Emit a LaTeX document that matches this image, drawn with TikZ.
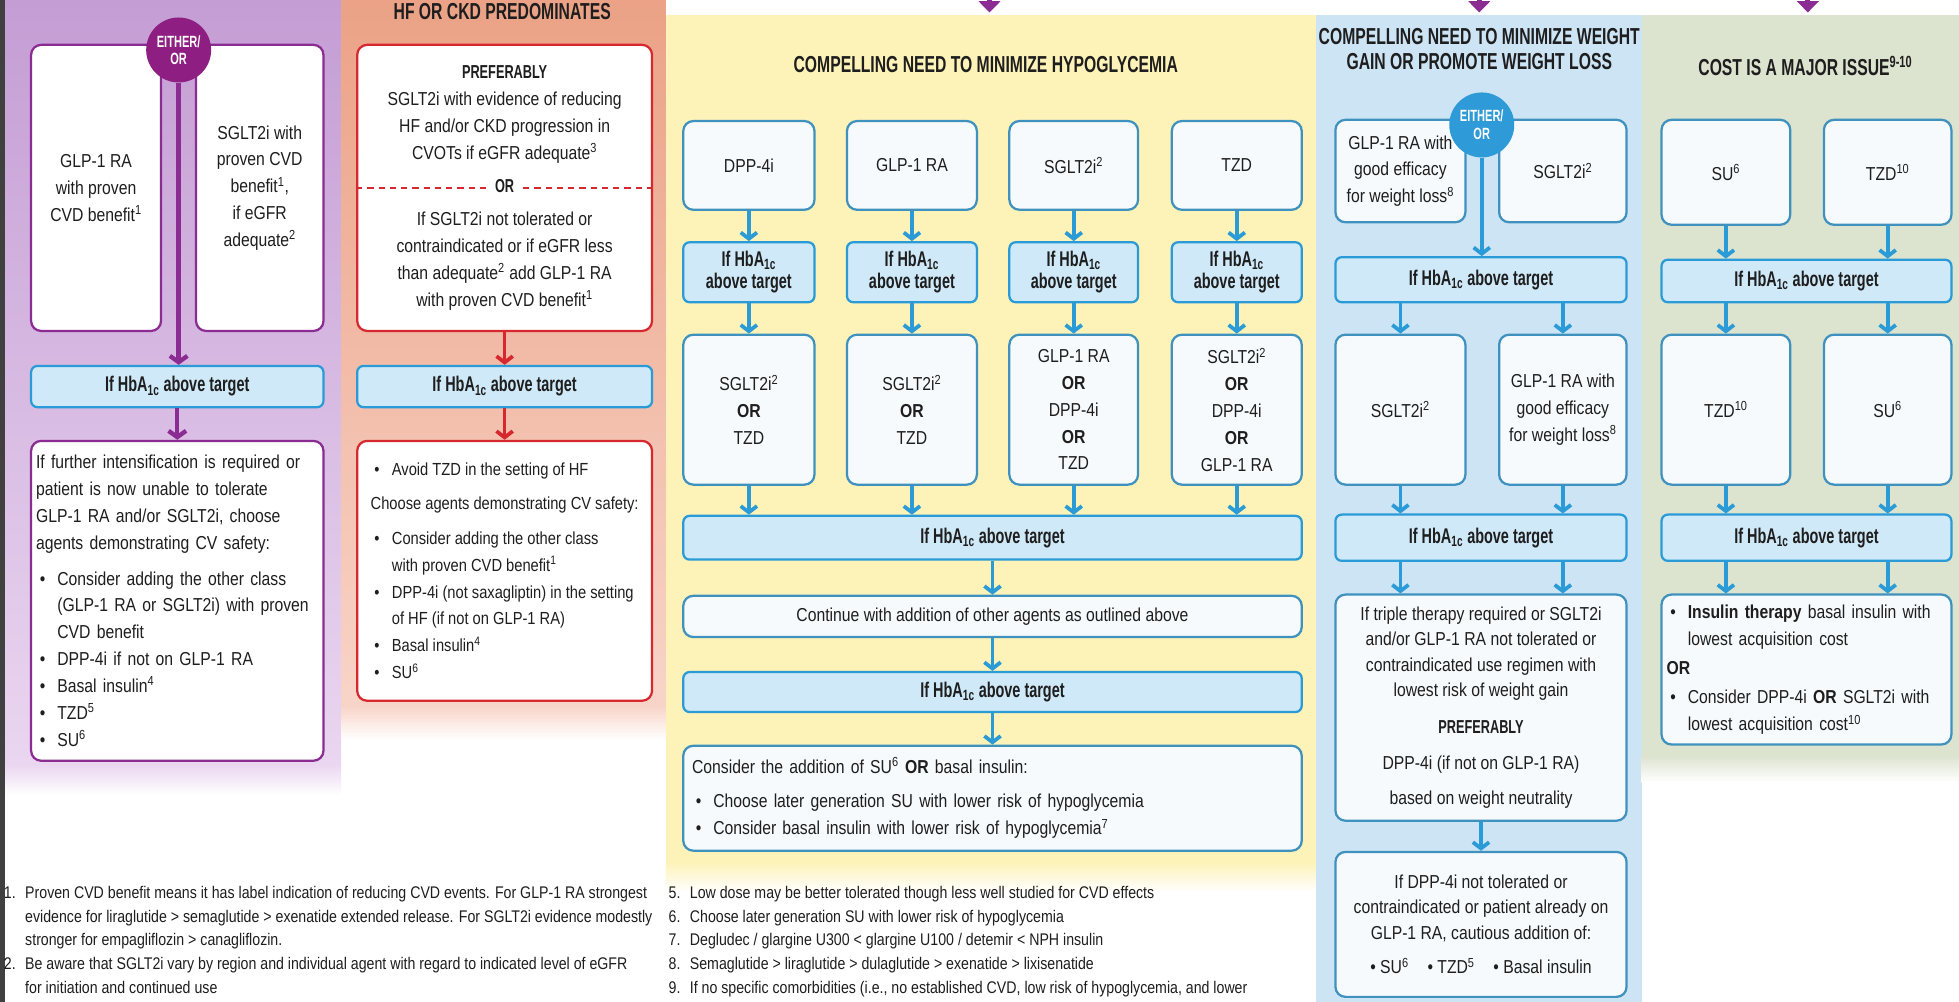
\documentclass[tikz,border=0pt]{standalone}
\usepackage{fontspec}
\setmainfont{Liberation Sans}[FakeStretch=0.84]
\newfontfamily\hfont{Liberation Sans}[FakeStretch=0.68]
\usetikzlibrary{arrows.meta}
\definecolor{pbgT}{HTML}{C49DD4}
\definecolor{pbgB}{HTML}{EAD6F0}
\definecolor{obgT}{HTML}{EBA286}
\definecolor{obgB}{HTML}{F8D4C8}
\definecolor{ybg}{HTML}{FDF2B8}
\definecolor{bbg}{HTML}{CDE4F5}
\definecolor{gbg}{HTML}{DCE3CF}
\definecolor{pdk}{HTML}{8B2C93}
\definecolor{pcirc}{HTML}{8E1E82}
\definecolor{rdk}{HTML}{D7282F}
\definecolor{bdk}{HTML}{2A9BD7}
\definecolor{bcirc}{HTML}{2E9AD8}
\definecolor{bbr}{HTML}{3F92BE}
\definecolor{barfill}{HTML}{CFE9F8}
\definecolor{boxw}{HTML}{F6FAFD}
\definecolor{txt}{HTML}{1E1E1E}
\newcommand\bodyf{\fontsize{15}{21.5}\selectfont}
\newcommand\barft{\hfont\bfseries\fontsize{17}{18}\selectfont}
\newcommand\titft{\hfont\bfseries\fontsize{18.5}{20}\selectfont}
\newcommand\circft{\hfont\bfseries\fontsize{13}{14}\selectfont}
\newcommand\footft{\fontsize{13.5}{19}\selectfont}
\newcommand\hba{If HbA\textsubscript{1c} above target}
\newcommand\hbb{If HbA\textsubscript{1c}\\above target}
\newcommand\myb{\hspace*{3pt}\makebox[14pt][l]{\textbullet}}
\newcommand\myi{\hspace*{17pt}}
\newcommand\hb[1]{{\hfont\bfseries #1}}
\newcommand\mybox[7]{\node[#1,anchor=north west,minimum width={#4-#2},minimum height={#5-#3}] (#6) at (#2,#3) {#7};}
\tikzset{
 pbox/.style={draw=pdk, line width=1.8pt, rounded corners=8pt, fill=white, align=center, font=\bodyf, text=txt, inner sep=3pt},
 obox/.style={pbox, draw=rdk},
 bbox/.style={pbox, draw=bbr, fill=boxw},
 hbar/.style={draw=bdk, line width=1.8pt, rounded corners=5pt, fill=barfill, align=center, font=\barft, text=txt, inner sep=2pt},
 circ/.style={circle, minimum size=52pt, inner sep=0pt, align=center, text=white, font=\circft},
 titl/.style={align=center, font=\titft, text=txt},
 foot/.style={align=left, font=\footft, text=txt, inner sep=0pt, anchor=north west},
 barr/.style={draw=bdk, line width=3pt, -{Straight Barb[length=5pt,width=13pt]}},
 parr/.style={draw=pdk, line width=3.5pt, -{Straight Barb[length=5pt,width=14pt]}},
 rarr/.style={draw=rdk, line width=3pt, -{Straight Barb[length=5pt,width=13pt]}},
 toptip/.style={draw=pdk, line width=4pt, -{Triangle[length=9pt,width=17pt]}},
 odash/.style={draw=rdk, line width=1.6pt, dash pattern=on 5pt off 4pt}
}
\begin{document}
\begin{tikzpicture}[x=1pt,y=-1pt]
\useasboundingbox (0,0) rectangle (1568,802);
\clip (0,0) rectangle (1568,802);
\fill[white] (0,0) rectangle (1568,802);
% column backgrounds
\shade[top color=pbgT, bottom color=pbgB] (4,0) rectangle (273,612);
\shade[top color=pbgB, bottom color=white] (4,612) rectangle (273,636);
\shade[top color=obgT, bottom color=obgB] (273,0) rectangle (533,565);
\shade[top color=obgB, bottom color=white] (273,565) rectangle (533,592);
\fill[ybg] (533,12) rectangle (1053,690);
\shade[top color=ybg, bottom color=white] (533,690) rectangle (1053,714);
\fill[bbg] (1053,12) rectangle (1314,802);
\fill[gbg] (1314,12) rectangle (1568,605);
\shade[top color=gbg, bottom color=white] (1314,605) rectangle (1568,626);
\fill[black!75] (0,0) rectangle (4,802);

% top arrow tips
\coordinate (tA) at (792,-12); \coordinate (tAe) at (792,10);
\coordinate (tB) at (1184,-12); \coordinate (tBe) at (1184,10);
\coordinate (tC) at (1447,-12); \coordinate (tCe) at (1447,10);
\draw[toptip] (tA) -- (tAe);
\draw[toptip] (tB) -- (tBe);
\draw[toptip] (tC) -- (tCe);

% ---------- purple column ----------
\mybox{pbox}{24}{35}{128}{264}{P1}{GLP-1 RA\\with proven\\CVD benefit\textsuperscript{1}}
\mybox{pbox}{156}{35}{258}{264}{P2}{SGLT2i with\\proven CVD\\benefit\textsuperscript{1},\\if eGFR\\adequate\textsuperscript{2}}
\mybox{hbar}{24}{292}{258}{325}{Pbar}{\hba}
\mybox{pbox,align=left,inner xsep=4pt,text width=226pt}{24}{352}{258}{608}{P3}{If further intensification is required or\\patient is now unable to tolerate\\GLP-1 RA and/or SGLT2i, choose\\agents demonstrating CV safety:\\[7pt]\myb Consider adding the other class\\\myi (GLP-1 RA or SGLT2i) with proven\\\myi CVD benefit\\\myb DPP-4i if not on GLP-1 RA\\\myb Basal insulin\textsuperscript{4}\\\myb TZD\textsuperscript{5}\\\myb SU\textsuperscript{6}}
\node[circ, fill=pcirc] (Pc) at (143,40) {EITHER/\\OR};
\draw[parr] (Pc.south) -- (Pc.south |- Pbar.north);
\draw[parr] (Pbar.south) -- (P3.north);

% ---------- orange column ----------
\node[titl, anchor=base] (Ot) at (402,16) {HF OR CKD PREDOMINATES};
\mybox{obox}{285}{35}{521}{264}{O1}{\hb{PREFERABLY}\\SGLT2i with evidence of reducing\\HF and/or CKD progression in\\CVOTs if eGFR adequate\textsuperscript{3}\\[5pt]\hb{OR}\\[5pt]If SGLT2i not tolerated or\\contraindicated or if eGFR less\\than adequate\textsuperscript{2} add GLP-1 RA\\with proven CVD benefit\textsuperscript{1}}
\draw[odash] (O1.west) -- ++(104,0);
\draw[odash] (O1.east) -- ++(-104,0);
\mybox{hbar}{285}{292}{521}{325}{Obar}{\hba}
\mybox{obox,align=left,font=\fontsize{14}{21.5}\selectfont}{285}{352}{521}{560}{O2}{\myb Avoid TZD in the setting of HF\\[6pt]Choose agents demonstrating CV safety:\\[6pt]\myb Consider adding the other class\\\myi with proven CVD benefit\textsuperscript{1}\\\myb DPP-4i (not saxagliptin) in the setting\\\myi of HF (if not on GLP-1 RA)\\\myb Basal insulin\textsuperscript{4}\\\myb SU\textsuperscript{6}}
\draw[rarr] (O1.south) -- (Obar.north);
\draw[rarr] (Obar.south) -- (O2.north);

% ---------- yellow column ----------
\node[titl] (Yt) at (789,52) {COMPELLING NEED TO MINIMIZE HYPOGLYCEMIA};
\mybox{bbox}{546}{96}{651}{167}{Ya1}{DPP-4i}
\mybox{bbox}{677}{96}{781}{167}{Yb1}{GLP-1 RA}
\mybox{bbox}{807}{96}{910}{167}{Yc1}{SGLT2i\textsuperscript{2}}
\mybox{bbox}{937}{96}{1041}{167}{Yd1}{TZD}
\mybox{hbar}{546}{193}{651}{241}{Ya2}{\hbb}
\mybox{hbar}{677}{193}{781}{241}{Yb2}{\hbb}
\mybox{hbar}{807}{193}{910}{241}{Yc2}{\hbb}
\mybox{hbar}{937}{193}{1041}{241}{Yd2}{\hbb}
\mybox{bbox}{546}{267}{651}{387}{Ya3}{SGLT2i\textsuperscript{2}\\\textbf{OR}\\TZD}
\mybox{bbox}{677}{267}{781}{387}{Yb3}{SGLT2i\textsuperscript{2}\\\textbf{OR}\\TZD}
\mybox{bbox}{807}{267}{910}{387}{Yc3}{GLP-1 RA\\\textbf{OR}\\DPP-4i\\\textbf{OR}\\TZD}
\mybox{bbox}{937}{267}{1041}{387}{Yd3}{SGLT2i\textsuperscript{2}\\\textbf{OR}\\DPP-4i\\\textbf{OR}\\GLP-1 RA}
\mybox{hbar}{546}{412}{1041}{447}{Ybig}{\hba}
\mybox{bbox}{546}{476}{1041}{509}{Ycont}{Continue with addition of other agents as outlined above}
\mybox{hbar}{546}{537}{1041}{569}{Ybar}{\hba}
\mybox{bbox,align=left,inner xsep=7pt,text width=481pt}{546}{596}{1041}{680}{Ylast}{Consider the addition of SU\textsuperscript{6} \textbf{OR} basal insulin:\\[6pt]\myb Choose later generation SU with lower risk of hypoglycemia\\\myb Consider basal insulin with lower risk of hypoglycemia\textsuperscript{7}}
\foreach \c in {a,b,c,d}{
 \draw[barr] (Y\c1.south) -- (Y\c2.north);
 \draw[barr] (Y\c2.south) -- (Y\c3.north);
 \draw[barr] (Y\c3.south) -- (Y\c3.south |- Ybig.north);
}
\draw[barr] (Ybig.south) -- (Ycont.north);
\draw[barr] (Ycont.south) -- (Ybar.north);
\draw[barr] (Ybar.south) -- (Ylast.north);

% ---------- blue column ----------
\node[titl] (Bt) at (1184,39) {COMPELLING NEED TO MINIMIZE WEIGHT\\GAIN OR PROMOTE WEIGHT LOSS};
\mybox{bbox}{1068}{95}{1172}{177}{B1a}{GLP-1 RA with\\good efficacy\\for weight loss\textsuperscript{8}}
\mybox{bbox}{1199}{95}{1301}{177}{B1b}{SGLT2i\textsuperscript{2}}
\mybox{hbar}{1068}{205}{1301}{241}{Bbar1}{\hba}
\mybox{bbox}{1068}{267}{1172}{387}{B2a}{SGLT2i\textsuperscript{2}}
\mybox{bbox}{1199}{267}{1301}{387}{B2b}{GLP-1 RA with\\good efficacy\\for weight loss\textsuperscript{8}}
\mybox{hbar}{1068}{411}{1301}{448}{Bbar2}{\hba}
\mybox{bbox,font=\fontsize{15}{20.5}\selectfont}{1068}{475}{1301}{656}{B3}{If triple therapy required or SGLT2i\\and/or GLP-1 RA not tolerated or\\contraindicated use regimen with\\lowest risk of weight gain\\[9pt]\hb{PREFERABLY}\\[8pt]DPP-4i (if not on GLP-1 RA)\\[8pt]based on weight neutrality}
\mybox{bbox,font=\fontsize{15}{20.5}\selectfont}{1068}{681}{1301}{797}{B4}{If DPP-4i not tolerated or\\contraindicated or patient already on\\GLP-1 RA, cautious addition of:\\[7pt]\textbullet\ SU\textsuperscript{6}\quad\textbullet\ TZD\textsuperscript{5}\quad\textbullet\ Basal insulin}
\node[circ, fill=bcirc] (Bc) at (1186,100) {EITHER/\\OR};
\draw[barr] (Bc.south) -- (Bc.south |- Bbar1.north);
\draw[barr] (B2a.north |- Bbar1.south) -- (B2a.north);
\draw[barr] (B2b.north |- Bbar1.south) -- (B2b.north);
\draw[barr] (B2a.south) -- (B2a.south |- Bbar2.north);
\draw[barr] (B2b.south) -- (B2b.south |- Bbar2.north);
\draw[barr] (B2a.south |- Bbar2.south) -- (B2a.south |- B3.north);
\draw[barr] (B2b.south |- Bbar2.south) -- (B2b.south |- B3.north);
\draw[barr] (B3.south) -- (B4.north);

% ---------- green column ----------
\node[titl] (Gt) at (1445,53) {COST IS A MAJOR ISSUE\textsuperscript{9-10}};
\mybox{bbox}{1329}{95}{1432}{179}{G1a}{SU\textsuperscript{6}}
\mybox{bbox}{1459}{95}{1561}{179}{G1b}{TZD\textsuperscript{10}}
\mybox{hbar}{1329}{207}{1561}{241}{Gbar1}{\hba}
\mybox{bbox}{1329}{267}{1432}{387}{G2a}{TZD\textsuperscript{10}}
\mybox{bbox}{1459}{267}{1561}{387}{G2b}{SU\textsuperscript{6}}
\mybox{hbar}{1329}{411}{1561}{448}{Gbar2}{\hba}
\mybox{bbox,align=left,inner xsep=4pt,text width=224pt}{1329}{475}{1561}{595}{G3}{\myb\textbf{Insulin therapy} basal insulin with\\\myi lowest acquisition cost\\[2pt]\textbf{OR}\\[2pt]\myb Consider DPP-4i \textbf{OR} SGLT2i with\\\myi lowest acquisition cost\textsuperscript{10}}
\draw[barr] (G1a.south) -- (G1a.south |- Gbar1.north);
\draw[barr] (G1b.south) -- (G1b.south |- Gbar1.north);
\draw[barr] (G2a.north |- Gbar1.south) -- (G2a.north);
\draw[barr] (G2b.north |- Gbar1.south) -- (G2b.north);
\draw[barr] (G2a.south) -- (G2a.south |- Gbar2.north);
\draw[barr] (G2b.south) -- (G2b.south |- Gbar2.north);
\draw[barr] (G2a.south |- Gbar2.south) -- (G2a.south |- G3.north);
\draw[barr] (G2b.south |- Gbar2.south) -- (G2b.south |- G3.north);

% ---------- footnotes ----------
\node[foot] (F1) at (3,709) {\makebox[17pt][l]{1.}Proven CVD benefit means it has label indication of reducing CVD events. For GLP-1 RA strongest\\\hspace*{17pt}evidence for liraglutide > semaglutide > exenatide extended release. For SGLT2i evidence modestly\\\hspace*{17pt}stronger for empagliflozin > canagliflozin.\\\makebox[17pt][l]{2.}Be aware that SGLT2i vary by region and individual agent with regard to indicated level of eGFR\\\hspace*{17pt}for initiation and continued use};
\node[foot] (F5) at (535,709) {\makebox[17pt][l]{5.}Low dose may be better tolerated though less well studied for CVD effects\\\makebox[17pt][l]{6.}Choose later generation SU with lower risk of hypoglycemia\\\makebox[17pt][l]{7.}Degludec / glargine U300 < glargine U100 / detemir < NPH insulin\\\makebox[17pt][l]{8.}Semaglutide > liraglutide > dulaglutide > exenatide > lixisenatide\\\makebox[17pt][l]{9.}If no specific comorbidities (i.e., no established CVD, low risk of hypoglycemia, and lower};
\end{tikzpicture}
\end{document}
